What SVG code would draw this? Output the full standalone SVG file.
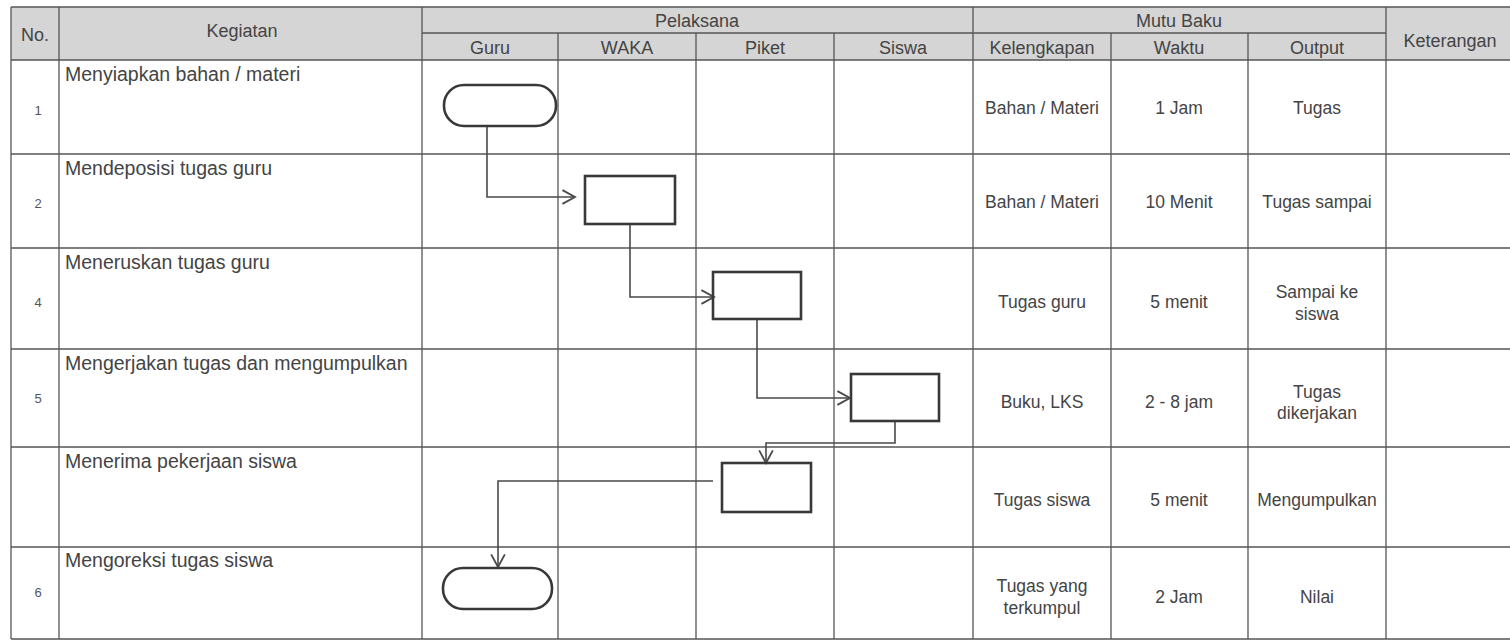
<svg xmlns="http://www.w3.org/2000/svg" width="1510" height="641" viewBox="0 0 1510 641">
<defs>
<style>
.bg{fill:#ffffff}
.hdr{fill:#d5d5d5}
.grid line{stroke:#555;stroke-width:1.3}
.ht{font-family:"Liberation Sans",Arial,sans-serif;font-size:18px;fill:#444;text-anchor:middle}
.num{font-family:"Liberation Sans",Arial,sans-serif;font-size:13px;fill:#555;text-anchor:middle}
.keg{font-family:"Liberation Sans",Arial,sans-serif;font-size:19.5px;fill:#444}
.cell{font-family:"Liberation Sans",Arial,sans-serif;font-size:17.5px;fill:#444;text-anchor:middle}
.node{fill:none;stroke:#383838;stroke-width:2.6}
.conn{fill:none;stroke:#4a4a4a;stroke-width:1.6}
</style>
<marker id="arr" markerUnits="userSpaceOnUse" markerWidth="16" markerHeight="16" viewBox="0 0 14 14" refX="12" refY="7" orient="auto">
<path d="M1,1 L12,7 L1,13" fill="none" stroke="#4a4a4a" stroke-width="1.6"/>
</marker>
</defs>
<rect class="bg" x="0" y="0" width="1510" height="641"/>
<rect class="hdr" x="11" y="7" width="1499" height="53"/>
<g id="table" class="grid">
<line x1="11" y1="7" x2="1510" y2="7"/>
<line x1="422" y1="33" x2="1386" y2="33"/>
<line x1="11" y1="60" x2="1510" y2="60"/>
<line x1="11" y1="154" x2="1510" y2="154"/>
<line x1="11" y1="248" x2="1510" y2="248"/>
<line x1="11" y1="349" x2="1510" y2="349"/>
<line x1="11" y1="447" x2="1510" y2="447"/>
<line x1="11" y1="547" x2="1510" y2="547"/>
<line x1="11" y1="639" x2="1510" y2="639"/>
<line x1="11" y1="7" x2="11" y2="639"/>
<line x1="59" y1="7" x2="59" y2="639"/>
<line x1="422" y1="7" x2="422" y2="639"/>
<line x1="558" y1="33" x2="558" y2="639"/>
<line x1="696" y1="33" x2="696" y2="639"/>
<line x1="834" y1="33" x2="834" y2="639"/>
<line x1="973" y1="7" x2="973" y2="639"/>
<line x1="1111" y1="33" x2="1111" y2="639"/>
<line x1="1248" y1="33" x2="1248" y2="639"/>
<line x1="1386" y1="7" x2="1386" y2="639"/>
</g>
<g id="header">
<text class="ht" x="35" y="41">No.</text>
<text class="ht" x="242" y="37">Kegiatan</text>
<text class="ht" x="697" y="27">Pelaksana</text>
<text class="ht" x="490" y="54">Guru</text>
<text class="ht" x="627" y="54">WAKA</text>
<text class="ht" x="765" y="54">Piket</text>
<text class="ht" x="903" y="54">Siswa</text>
<text class="ht" x="1179" y="27">Mutu Baku</text>
<text class="ht" x="1042" y="54">Kelengkapan</text>
<text class="ht" x="1179" y="54">Waktu</text>
<text class="ht" x="1317" y="54">Output</text>
<text class="ht" x="1450" y="47">Keterangan</text>
</g>
<g id="rows">
<text class="num" x="38" y="115">1</text>
<text class="keg" x="65" y="81">Menyiapkan bahan / materi</text>
<text class="cell" x="1042" y="114">Bahan / Materi</text>
<text class="cell" x="1179" y="114">1 Jam</text>
<text class="cell" x="1317" y="114">Tugas</text>

<text class="num" x="38" y="208">2</text>
<text class="keg" x="65" y="175">Mendeposisi tugas guru</text>
<text class="cell" x="1042" y="208">Bahan / Materi</text>
<text class="cell" x="1179" y="208">10 Menit</text>
<text class="cell" x="1317" y="208">Tugas sampai</text>

<text class="num" x="38" y="307">4</text>
<text class="keg" x="65" y="269">Meneruskan tugas guru</text>
<text class="cell" x="1042" y="308">Tugas guru</text>
<text class="cell" x="1179" y="308">5 menit</text>
<text class="cell" x="1317" y="298">Sampai ke</text>
<text class="cell" x="1317" y="320">siswa</text>

<text class="num" x="38" y="403">5</text>
<text class="keg" x="65" y="370">Mengerjakan tugas dan mengumpulkan</text>
<text class="cell" x="1042" y="408">Buku, LKS</text>
<text class="cell" x="1179" y="408">2 - 8 jam</text>
<text class="cell" x="1317" y="398">Tugas</text>
<text class="cell" x="1317" y="419">dikerjakan</text>

<text class="keg" x="65" y="468">Menerima pekerjaan siswa</text>
<text class="cell" x="1042" y="506">Tugas siswa</text>
<text class="cell" x="1179" y="506">5 menit</text>
<text class="cell" x="1317" y="506">Mengumpulkan</text>

<text class="num" x="38" y="597">6</text>
<text class="keg" x="65" y="567">Mengoreksi tugas siswa</text>
<text class="cell" x="1042" y="592">Tugas yang</text>
<text class="cell" x="1042" y="614">terkumpul</text>
<text class="cell" x="1179" y="603">2 Jam</text>
<text class="cell" x="1317" y="603">Nilai</text>
</g>
<g id="connectors">
<path class="conn" d="M487,126 L487,197 L575,197" marker-end="url(#arr)"/>
<path class="conn" d="M630,224 L630,297 L714,297" marker-end="url(#arr)"/>
<path class="conn" d="M757,319 L757,398 L850,398" marker-end="url(#arr)"/>
<path class="conn" d="M895,421 L895,443 L766,443 L766,463" marker-end="url(#arr)"/>
<path class="conn" d="M713,481 L498,481 L498,567" marker-end="url(#arr)"/>
</g>
<g id="n1-start"><rect class="node" x="444" y="85" width="112" height="41" rx="20" ry="20"/></g>
<g id="n2-waka"><rect class="node" x="585" y="176" width="90" height="48"/></g>
<g id="n3-piket"><rect class="node" x="713" y="272" width="88" height="47"/></g>
<g id="n4-siswa"><rect class="node" x="851" y="374" width="88" height="47"/></g>
<g id="n5-piket"><rect class="node" x="722" y="463" width="89" height="49"/></g>
<g id="n6-end"><rect class="node" x="443" y="568" width="109" height="41" rx="20" ry="20"/></g>
</svg>
